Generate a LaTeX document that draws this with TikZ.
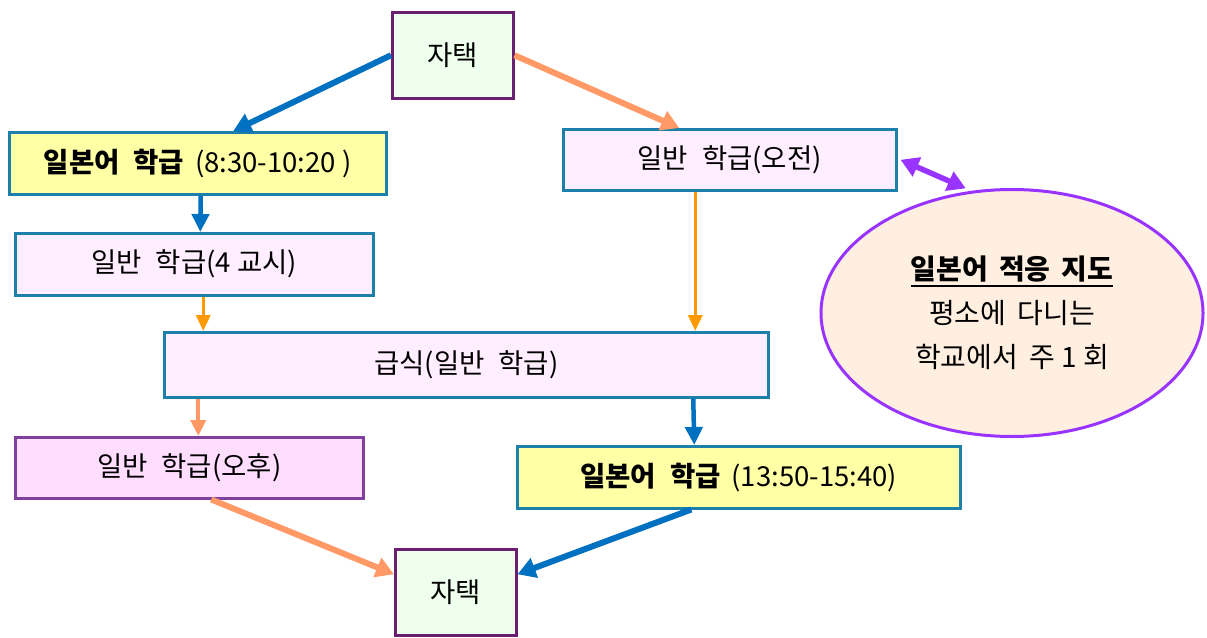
\documentclass[tikz,border=0pt]{standalone}
\usepackage{fontspec}
\setmainfont{Noto Sans CJK KR}
\usetikzlibrary{arrows.meta,shapes.geometric}
\definecolor{tealb}{HTML}{1C80AA}
\definecolor{arrblue}{HTML}{0070C0}
\definecolor{arrorange}{HTML}{FF9900}
\definecolor{arrsalmon}{HTML}{FF9966}
\definecolor{purp}{HTML}{9933FF}
\definecolor{homeb}{HTML}{6B1F70}
\definecolor{homef}{HTML}{EEFFEE}
\definecolor{yel}{HTML}{FFFFA6}
\definecolor{pinkf}{HTML}{FFEEFF}
\definecolor{pinkf2}{HTML}{FFDDFF}
\definecolor{pmb}{HTML}{8040A0}
\definecolor{peach}{HTML}{FFEFE0}
\newcommand\myul[1]{\setbox0\hbox{#1}\rlap{\rule[-7pt]{\wd0}{2pt}}\box0}
\begin{document}
\begin{tikzpicture}[x=1pt,y=-1pt,
  font=\fontsize{27.5}{32}\selectfont,
  box/.style={rectangle, draw=tealb, line width=2.5pt, inner sep=0pt, anchor=north west},
  homebox/.style={box, draw=homeb, fill=homef},
  yelbox/.style={box, fill=yel},
  pinkbox/.style={box, fill=pinkf},
  pmbox/.style={box, draw=pmb, fill=pinkf2},
  bluethick/.style={draw=arrblue, line width=6pt, -{Triangle[length=18pt,width=20pt]}},
  bluev/.style={draw=arrblue, line width=4.5pt, -{Triangle[length=18pt,width=17pt]}},
  orangev/.style={draw=arrorange, line width=3.5pt, -{Triangle[length=16pt,width=14pt]}},
  salmonv/.style={draw=arrsalmon, line width=4pt, -{Triangle[length=16pt,width=15pt]}},
  salmonthick/.style={draw=arrsalmon, line width=6pt, -{Triangle[length=18pt,width=20pt]}},
  purparr/.style={draw=purp, line width=5.5pt, {Triangle[length=18pt,width=20pt]}-{Triangle[length=18pt,width=20pt]}}
]
\useasboundingbox (0,0) rectangle (1207,637);
\fill[white] (0,0) rectangle (1207,637);

\node[homebox, minimum width=121pt, minimum height=86pt] (top) at (391,11) {자택\hspace{22pt}};
\node[yelbox, minimum width=377pt, minimum height=62pt] (y1) at (8,131) {\textbf{일본어\hspace{0.5em}학급}\hspace{0.4em}(8:30-10:20 )};
\node[pinkbox, minimum width=358pt, minimum height=62pt] (c4) at (14,232) {일반\hspace{0.5em}학급(4 교시)};
\node[pinkbox, minimum width=333pt, minimum height=61pt] (am) at (562,128) {일반\hspace{0.5em}학급(오전)};
\node[pinkbox, minimum width=604pt, minimum height=65pt] (lunch) at (163,331) {급식(일반\hspace{0.5em}학급)};
\node[pmbox, minimum width=348pt, minimum height=61pt] (pm) at (14,436) {일반\hspace{0.5em}학급(오후)};
\node[yelbox, minimum width=443pt, minimum height=62pt] (y2) at (516,445) {\textbf{일본어\hspace{0.5em}학급}\hspace{0.4em}(13:50-15:40)};
\node[homebox, minimum width=121pt, minimum height=86pt] (bot) at (394,548) {자택\hspace{22pt}};
\node[ellipse, draw=purp, line width=3pt, fill=peach, minimum width=382pt, minimum height=247pt, align=center, inner sep=0pt,
  font=\fontsize{28}{44}\selectfont] (ell) at (1012,313)
  {\myul{\textbf{일본어\hspace{0.4em}적응\hspace{0.4em}지도}}\\평소에\hspace{0.4em}다니는\\학교에서\hspace{0.4em}주 1 회};

\draw[bluethick] (top.west) -- ([xshift=35.5pt]y1.north);
\draw[salmonthick] (top.east) -- ([xshift=-50.5pt]am.north);
\draw[bluev] ([xshift=3pt]y1.south) -- ([xshift=6pt]c4.north);
\draw[orangev] ([xshift=9pt]c4.south) -- ([xshift=-263pt]lunch.north);
\draw[orangev] ([xshift=-34.5pt]am.south) -- ([xshift=229pt]lunch.north);
\draw[salmonv] ([xshift=-268pt]lunch.south) -- ([xshift=9pt]pm.north);
\draw[bluev] ([xshift=227pt]lunch.south) -- ([xshift=-44.5pt]y2.north);
\draw[salmonthick] ([xshift=22pt]pm.south) -- ([yshift=18pt]bot.west);
\draw[bluethick] ([xshift=-47.5pt]y2.south) -- ([yshift=18pt]bot.east);
\draw[purparr] ([xshift=3pt]am.east) -- ([shift={(-2pt,3pt)}]ell.110);
\end{tikzpicture}
\end{document}
